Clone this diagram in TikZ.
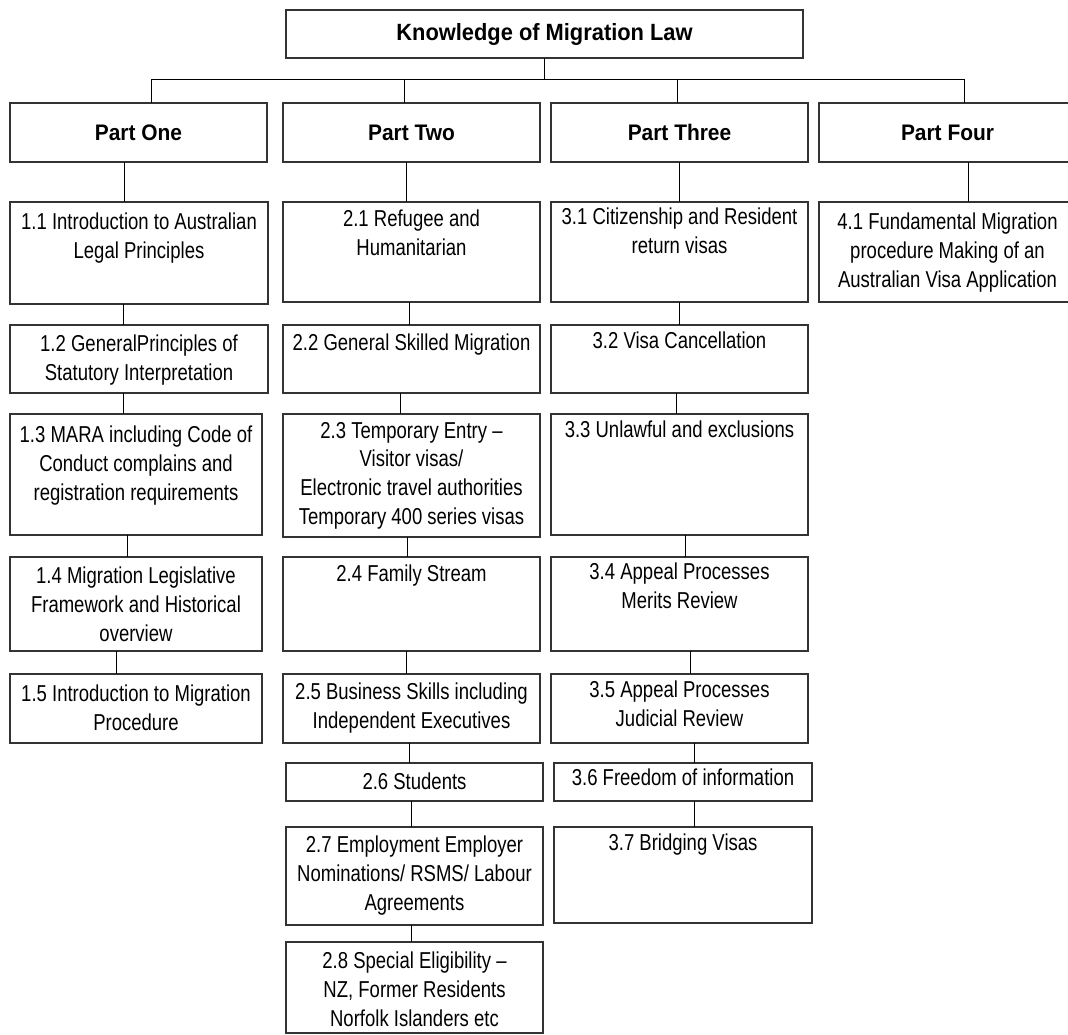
\documentclass[tikz,border=0pt]{standalone}
\usepackage{fontspec}
\setmainfont{Liberation Sans}
\newfontfamily\bodyfont[FakeStretch=0.805]{Liberation Sans}
\newfontfamily\headfont[FakeStretch=0.93]{Liberation Sans}
\tikzset{
  bx/.style={draw=black!80, line width=1.2pt, rectangle, inner sep=0pt, outer sep=0pt, anchor=north west},
  txt/.style={anchor=north, inner sep=0pt, outer sep=0pt, align=center, font=\bodyfont\fontsize{23}{28.8}\selectfont},
  hd/.style={font=\headfont\bfseries\fontsize{22.5}{27}\selectfont},
  ttl/.style={font=\headfont\bfseries\fontsize{23.5}{28}\selectfont},
  cn/.style={line width=1pt, draw=black}
}
\newcommand\tbox[7]{%
  \node[bx, minimum width=#4-#2, minimum height=#5-#3] (#1) at (#2,#3) {};
  \node[txt] (#1t) at ([yshift=-#6pt]#1.north) {#7};}
\newcommand\stem[3]{\draw[cn] (#1,0 |- #2.south) -- (#1,0 |- #3.north);}
\begin{document}
\begin{tikzpicture}[x=1pt,y=-1pt]
\useasboundingbox (0,0) rectangle (1068,1035);
\clip (0,0) rectangle (1068,1035);
% title
\node[bx, ttl, minimum width=517, minimum height=48] (title) at (286,10) {Knowledge of Migration Law};
% parts
\node[bx, hd, minimum width=257, minimum height=59] (p1) at (10,103) {Part One};
\node[bx, hd, minimum width=257, minimum height=59] (p2) at (283,103) {Part Two};
\node[bx, hd, minimum width=257, minimum height=59] (p3) at (551,103) {Part Three};
\node[bx, hd, minimum width=257, minimum height=59] (p4) at (819,103) {Part Four};
\coordinate (bus) at (544.5,80);
\draw[cn] (title.south) -- (bus);
\draw[cn] (151,0 |- p1.north) -- (151,80) -- (964,80) -- (964,0 |- p4.north);
\draw[cn] (404,80) -- (404,0 |- p2.north);
\draw[cn] (677,80) -- (677,0 |- p3.north);
% column 1
\tbox{n11}{10}{202}{268}{304}{11}{1.1 Introduction to Australian\\Legal Principles}
\tbox{n12}{10}{325}{268}{393}{10}{1.2 GeneralPrinciples of\\Statutory Interpretation}
\tbox{n13}{10}{414}{262}{535}{12}{1.3 MARA including Code of\\Conduct complains and\\registration requirements}
\tbox{n14}{10}{557}{262}{651}{10}{1.4 Migration Legislative\\Framework and Historical\\overview}
\tbox{n15}{10}{674}{262}{743}{11}{1.5 Introduction to Migration\\Procedure}
% column 2
\tbox{n21}{283}{202}{540}{302}{8}{2.1 Refugee and\\Humanitarian}
\tbox{n22}{283}{325}{540}{393}{9}{2.2 General Skilled Migration}
\tbox{n23}{283}{414}{540}{537}{8}{2.3 Temporary Entry –\\Visitor visas/\\Electronic travel authorities\\Temporary 400 series visas}
\tbox{n24}{283}{557}{540}{651}{8}{2.4 Family Stream}
\tbox{n25}{283}{674}{540}{743}{9}{2.5 Business Skills including\\Independent Executives}
\tbox{n26}{286}{763}{543}{801}{10}{2.6 Students}
\tbox{n27}{286}{827}{543}{925}{9}{2.7 Employment Employer\\Nominations/ RSMS/ Labour\\Agreements}
\tbox{n28}{286}{942}{543}{1033}{10}{2.8 Special Eligibility –\\NZ, Former Residents\\Norfolk Islanders etc}
% column 3
\tbox{n31}{551}{202}{808}{302}{6}{3.1 Citizenship and Resident\\return visas}
\tbox{n32}{551}{325}{808}{393}{7}{3.2 Visa Cancellation}
\tbox{n33}{551}{414}{808}{535}{7}{3.3 Unlawful and exclusions}
\tbox{n34}{551}{557}{808}{651}{6}{3.4 Appeal Processes\\Merits Review}
\tbox{n35}{551}{674}{808}{743}{7}{3.5 Appeal Processes\\Judicial Review}
\tbox{n36}{554}{763}{812}{801}{6}{3.6 Freedom of information}
\tbox{n37}{554}{827}{812}{923}{7}{3.7 Bridging Visas}
% column 4
\tbox{n41}{819}{202}{1076}{302}{11}{4.1 Fundamental Migration\\procedure Making of an\\Australian Visa Application}
% stems
\stem{124}{p1}{n11}
\stem{123}{n11}{n12}
\stem{123}{n12}{n13}
\stem{127}{n13}{n14}
\stem{116}{n14}{n15}
\stem{406}{p2}{n21}
\stem{409}{n21}{n22}
\stem{400}{n22}{n23}
\stem{407}{n23}{n24}
\stem{406}{n24}{n25}
\stem{409}{n25}{n26}
\stem{411}{n26}{n27}
\stem{411}{n27}{n28}
\stem{679}{p3}{n31}
\stem{679}{n31}{n32}
\stem{676}{n32}{n33}
\stem{685}{n33}{n34}
\stem{690}{n34}{n35}
\stem{694}{n35}{n36}
\stem{694}{n36}{n37}
\stem{968}{p4}{n41}
\end{tikzpicture}
\end{document}
